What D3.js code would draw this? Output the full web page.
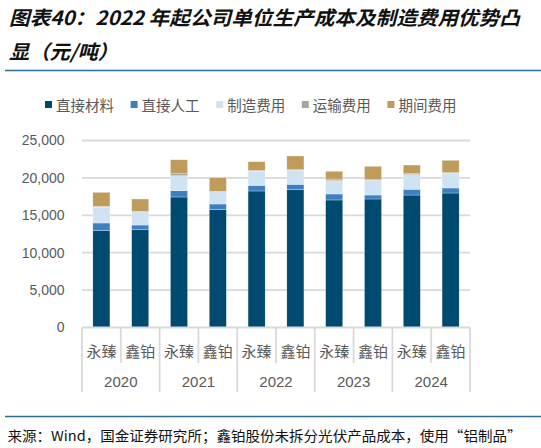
<!DOCTYPE html>
<html><head><meta charset="utf-8">
<script src="https://cdn.jsdelivr.net/npm/d3@7"></script>
<style>
html,body{margin:0;padding:0;background:#fff;}
svg{display:block;}
</style></head>
<body>
<div id="chart"></div>
<script>
// ---- data ----
const companies = ["永臻","鑫铂","永臻","鑫铂","永臻","鑫铂","永臻","鑫铂","永臻","鑫铂"];
const years = ["2020","2021","2022","2023","2024"];
const seriesNames = ["直接材料","直接人工","制造费用","运输费用","期间费用"];
const material  = [12940, 13070, 17450, 15750, 18250, 18470, 17050, 17180, 17710, 17980];
const labor     = [1030, 630, 840, 760, 750, 670, 800, 530, 770, 670];
const mfg       = [2130, 1780, 2000, 1640, 1900, 1910, 1780, 1970, 1950, 2000];
const transport = [100, 50, 270, 50, 100, 50, 220, 80, 130, 50];
const period    = [1870, 1650, 1870, 1830, 1170, 1830, 1030, 1790, 1160, 1650];
const yTicks = [0, 5000, 10000, 15000, 20000, 25000];
const titleLine1 = "图表40：2022 年起公司单位生产成本及制造费用优势凸";
const titleLine2 = "显（元/吨）";
const sourceText = "来源：Wind，国金证券研究所；鑫铂股份未拆分光伏产品成本，使用“铝制品”";

// ---- build ----
const W = 541, H = 448;
const colors = ["#004a70", "#3f7ebf", "#d0e3f3", "#a6a6a6", "#bf9c5b"];
const seriesVals = [material, labor, mfg, transport, period];
const rows = companies.map((c, i) => {
  const r = {key: i, company: c};
  seriesNames.forEach((s, j) => r[s] = seriesVals[j][i]);
  return r;
});
const stack = d3.stack().keys(seriesNames)(rows);

const svg = d3.select("#chart").append("svg").attr("width", W).attr("height", H);
const txtColor = "#595959";
const gridColor = "#d9d9d9";

// title
svg.append("text").attr("x", 9).attr("y", 16).attr("dominant-baseline", "central")
  .attr("font-family", "'Noto Sans CJK SC', sans-serif").attr("font-size", 19.5)
  .attr("font-weight", "bold").attr("font-style", "italic").attr("fill", "#111")
  .attr("textLength", 511).attr("lengthAdjust", "spacingAndGlyphs").text(titleLine1);
svg.append("text").attr("x", 9).attr("y", 50).attr("dominant-baseline", "central")
  .attr("font-family", "'Noto Sans CJK SC', sans-serif").attr("font-size", 19.5)
  .attr("font-weight", "bold").attr("font-style", "italic").attr("fill", "#111")
  .attr("textLength", 109).attr("lengthAdjust", "spacingAndGlyphs").text(titleLine2);
svg.append("line").attr("x1", 5).attr("x2", W).attr("y1", 70.5).attr("y2", 70.5)
  .attr("stroke", "#2c6b94").attr("stroke-width", 1.5);

// legend
const legend = svg.append("g");
seriesNames.forEach((s, i) => {
  const lx = 45 + i * 85.6;
  legend.append("rect").attr("x", lx).attr("y", 101).attr("width", 7).attr("height", 7).attr("fill", colors[i]);
  legend.append("text").attr("x", lx + 11).attr("y", 104.5).attr("dominant-baseline", "central")
    .attr("font-family", "'Noto Sans CJK SC', sans-serif").attr("font-size", 14.5)
    .attr("fill", txtColor).text(s);
});

// scales
const x = d3.scaleBand().domain(d3.range(companies.length)).range([82, 470])
  .paddingInner(0.56).paddingOuter(0.28);
const y = d3.scaleLinear().domain([0, 25000]).range([327.5, 140.5]);

// gridlines
svg.append("g").selectAll("line").data(yTicks.filter(t => t > 0)).join("line")
  .attr("x1", 82).attr("x2", 470).attr("y1", d => y(d)).attr("y2", d => y(d))
  .attr("stroke", gridColor).attr("stroke-width", 1.8);

// y axis labels
const yAxis = d3.axisLeft(y).tickValues(yTicks).tickSize(0).tickPadding(0)
  .tickFormat(d3.format(","));
const ya = svg.append("g").attr("transform", "translate(64.5,0)").call(yAxis);
ya.select(".domain").remove();
ya.selectAll("text").attr("font-family", "'Liberation Sans', Arial, sans-serif")
  .attr("font-size", 14).attr("fill", txtColor);

// bars
svg.append("g").selectAll("g").data(stack).join("g")
  .attr("fill", (d, i) => colors[i])
  .selectAll("rect").data(d => d).join("rect")
  .attr("x", (d, i) => x(i)).attr("width", x.bandwidth())
  .attr("y", d => y(d[1])).attr("height", d => y(d[0]) - y(d[1]))
  .attr("stroke", "#ffffff").attr("stroke-width", 0.4).attr("stroke-opacity", 0.7);

// category axis
const step = x.step();
const x0 = 82;
svg.append("line").attr("x1", x0).attr("x2", 470).attr("y1", 327.5).attr("y2", 327.5)
  .attr("stroke", gridColor).attr("stroke-width", 1.8);
d3.range(companies.length + 1).forEach(i => {
  const xx = x0 + i * step;
  svg.append("line").attr("x1", xx).attr("x2", xx).attr("y1", 327.5)
    .attr("y2", i % 2 === 0 ? 392 : 363)
    .attr("stroke", gridColor).attr("stroke-width", 1.8);
});
svg.append("g").selectAll("text").data(companies).join("text")
  .attr("x", (d, i) => x(i) + x.bandwidth() / 2).attr("y", 350.5)
  .attr("text-anchor", "middle").attr("dominant-baseline", "central")
  .attr("font-family", "'Noto Sans CJK SC', sans-serif").attr("font-size", 15)
  .attr("fill", txtColor).text(d => d);
svg.append("g").selectAll("text").data(years).join("text")
  .attr("x", (d, i) => x0 + (2 * i + 1) * step).attr("y", 381.5)
  .attr("text-anchor", "middle").attr("dominant-baseline", "central")
  .attr("font-family", "'Liberation Sans', Arial, sans-serif").attr("font-size", 15)
  .attr("fill", txtColor).text(d => d);

// footer
svg.append("line").attr("x1", 5).attr("x2", W).attr("y1", 416.5).attr("y2", 416.5)
  .attr("stroke", "#2c6b94").attr("stroke-width", 1.5);
svg.append("text").attr("x", 7.5).attr("y", 434.5).attr("dominant-baseline", "central")
  .attr("font-family", "'Noto Sans CJK SC', sans-serif").attr("font-size", 13.5)
  .attr("fill", "#111").attr("textLength", 514).attr("lengthAdjust", "spacingAndGlyphs")
  .text(sourceText);
</script>
</body></html>
